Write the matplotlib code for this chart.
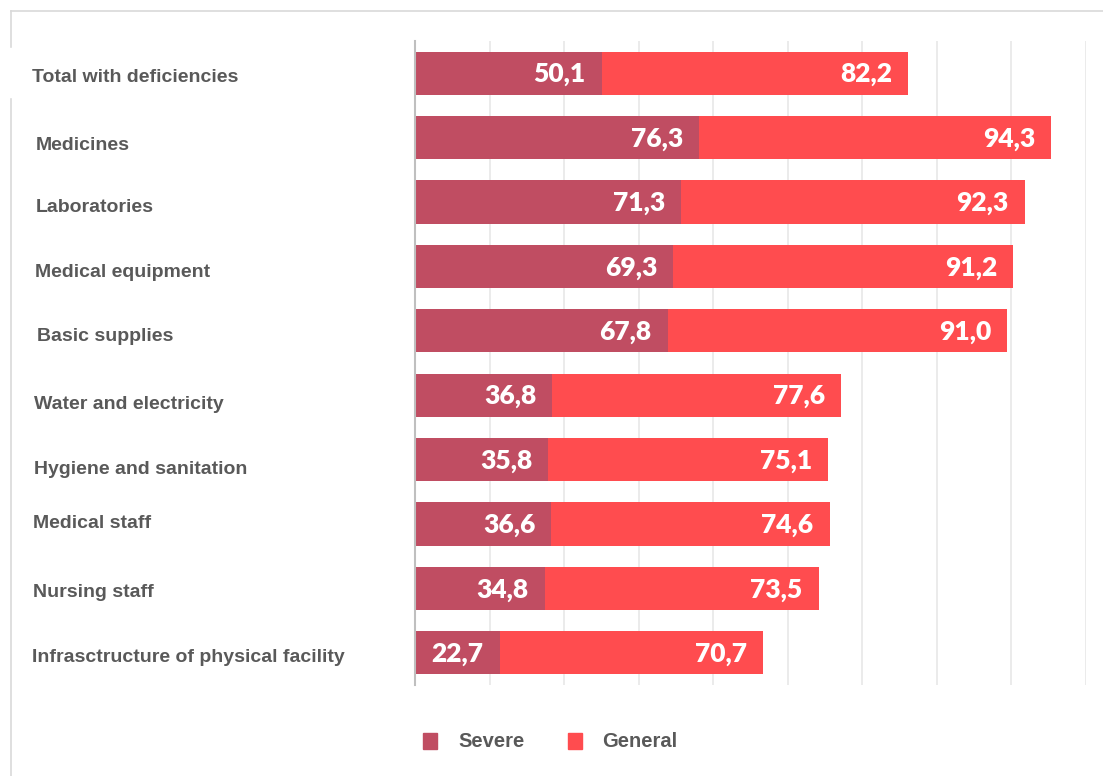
import matplotlib.pyplot as plt
import matplotlib.patches as mpatches

categories = [
    "Total with deficiencies",
    "Medicines",
    "Laboratories",
    "Medical equipment",
    "Basic supplies",
    "Water and electricity",
    "Hygiene and sanitation",
    "Medical staff",
    "Nursing staff",
    "Infrasctructure of physical facility",
]
severe = [50.1, 76.3, 71.3, 69.3, 67.8, 36.8, 35.8, 36.6, 34.8, 22.7]
general = [82.2, 94.3, 92.3, 91.2, 91.0, 77.6, 75.1, 74.6, 73.5, 70.7]
series_names = ["Severe", "General"]

SEVERE_COLOR = "#C04D62"
GENERAL_COLOR = "#FF4C4F"
TEXT_GRAY = "#595959"
LABEL_FONT = "Liberation Sans"

# small per-label nudges (pixels) for the category names
label_x = [32, 36, 36, 35, 37, 34, 34, 33, 33, 32]
label_dy = [2, 5, 3, 4, 3, 7, 7, -3, 2, 2]

fig = plt.figure(figsize=(11.03, 7.76), dpi=100)
W, H = 1103, 776

# light frame around the chart area
fig.add_artist(plt.Line2D([11 / W, 1], [1 - 11 / H, 1 - 11 / H], color="#D9D9D9", lw=1.2))
fig.add_artist(plt.Line2D([11 / W, 11 / W], [0, 1 - 11 / H], color="#D9D9D9", lw=1.2))
fig.add_artist(mpatches.Rectangle((8 / W, 1 - 97 / H), 22 / W, 49 / H, color="white",
                                  transform=fig.transFigure, zorder=3))

ax = fig.add_axes([415 / W, 1 - 685 / H, (1086 - 415) / W, (685 - 41) / H])

y = range(len(categories))
ax.barh(y, severe, height=0.67, color=SEVERE_COLOR, zorder=2)
ax.barh(y, general, left=severe, height=0.67, color=GENERAL_COLOR, zorder=2)

pad = 4.3
for i, (s, g) in enumerate(zip(severe, general)):
    ax.text(s - pad, i + 0.02, f"{s:.1f}".replace(".", ","), ha="right", va="center",
            color="white", fontsize=19, fontweight="heavy", family="Lato", zorder=4)
    ax.text(s + g - pad, i + 0.02, f"{g:.1f}".replace(".", ","), ha="right", va="center",
            color="white", fontsize=19, fontweight="heavy", family="Lato", zorder=4)

ax.set_xlim(0, 180)
ax.set_ylim(len(categories) - 0.5, -0.5)
ax.set_xticks(range(0, 181, 20))
ax.set_yticks([])
ax.tick_params(axis="x", length=0, labelbottom=False)
ax.grid(axis="x", color="#D9D9D9", lw=1.2, alpha=0.6, zorder=3)
for side in ["top", "right", "bottom"]:
    ax.spines[side].set_visible(False)
ax.spines["left"].set_color("#BFBFBF")
ax.spines["left"].set_linewidth(1.5)
ax.spines["left"].set_zorder(5)

# category names on the left, placed by baseline
for i, name in enumerate(categories):
    yc = ax.transData.transform((0, i))[1]
    fig.text(label_x[i] / W, (yc - label_dy[i] - 7) / H, name, ha="left", va="baseline",
             color=TEXT_GRAY, fontsize=14, fontweight="bold", family=LABEL_FONT)

# legend
for (x0, tx), name, col in zip([(423, 458), (568, 602)], series_names, [SEVERE_COLOR, GENERAL_COLOR]):
    fig.add_artist(mpatches.Rectangle((x0 / W, 1 - 749 / H), 14 / W, 16 / H, color=col,
                                      transform=fig.transFigure))
    fig.text(tx / W, 1 - 747 / H, name, ha="left", va="baseline", color=TEXT_GRAY,
             fontsize=14.5, fontweight="bold", family=LABEL_FONT)

fig.savefig("out.png", dpi=100, facecolor="white")
